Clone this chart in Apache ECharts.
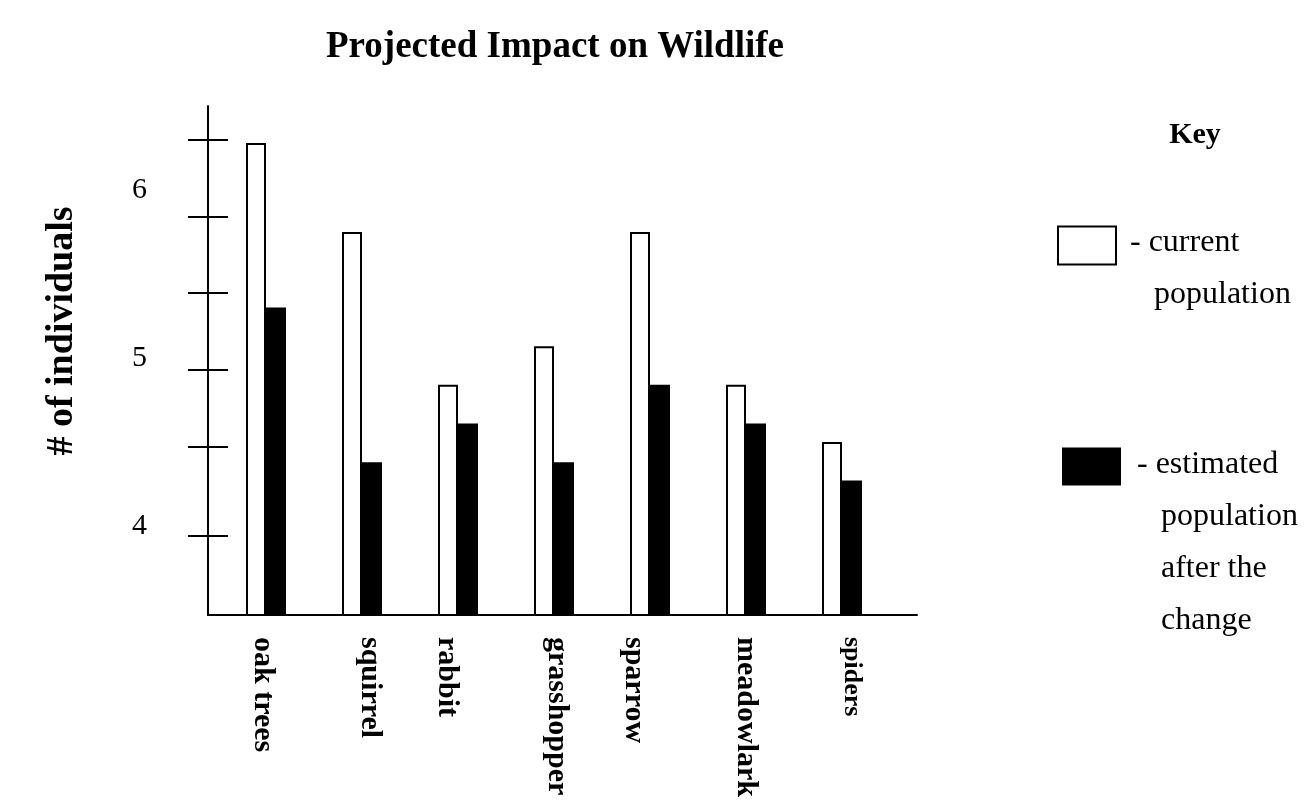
<!DOCTYPE html>
<html>
<head>
<meta charset="utf-8">
<title>Projected Impact on Wildlife</title>
<script src="https://cdn.jsdelivr.net/npm/echarts@6/dist/echarts.min.js"></script>
<style>
html, body { margin: 0; padding: 0; background: #fff; }
#chart { width: 1313px; height: 806px; }
</style>
</head>
<body>
<div id="chart"></div>
<script>
var categories = ['oak trees', 'squirrel', 'rabbit', 'grasshopper', 'sparrow', 'meadowlark', 'spiders'];
var currentPop = [6.28, 5.75, 4.84, 5.07, 5.75, 4.84, 4.50];
var estimatedPop = [5.30, 4.38, 4.61, 4.38, 4.84, 4.61, 4.27];
var yLabels = [4, 5, 6];
var yTicks = [3.94, 4.47, 4.93, 5.39, 5.84, 6.30];
var yMin = 3.47;
var yMax = 6.5;

// labels in the original were placed by hand, so nudge them (px, + = right)
var labelNudge = [-3, 8, -11, 3, -16, 0, 10];
var labelSize = [30, 30, 30, 30, 30, 30, 26];

var FONT = "'Liberation Serif', 'Times New Roman', serif";

var chartDom = document.getElementById('chart');
var myChart = echarts.init(chartDom);

// rotated labels: an empty line before/after the name shifts it sideways
var labelRich = {};
categories.forEach(function (name, i) {
    labelRich['t' + i] = { fontFamily: FONT, fontWeight: 'bold', fontSize: labelSize[i], color: '#000' };
    labelRich['g' + i] = { fontSize: 1, lineHeight: Math.max(1, 2 * Math.abs(labelNudge[i])) };
});

var legendText = { fontFamily: FONT, fontSize: 32, color: '#000', lineHeight: 52 };

var option = {
    backgroundColor: '#fff',
    animation: false,
    title: [
        {
            text: 'Projected Impact on Wildlife',
            left: 555,
            top: 29,
            textAlign: 'center',
            padding: 0,
            textStyle: { fontFamily: FONT, fontWeight: 'bold', fontSize: 37, color: '#000' }
        },
        {
            text: 'Key',
            left: 1195,
            top: 120,
            textAlign: 'center',
            padding: 0,
            textStyle: { fontFamily: FONT, fontWeight: 'bold', fontSize: 30, color: '#000' }
        }
    ],
    legend: [
        {
            data: ['current population'],
            left: 1057,
            top: 193,
            padding: 0,
            icon: 'rect',
            itemWidth: 58,
            itemHeight: 38,
            selectedMode: false,
            formatter: function () {
                return '{gap| }\n{txt|- current}\n{txt|   population}';
            },
            textStyle: {
                padding: [0, 0, 0, 9],
                rich: {
                    gap: { fontSize: 1, lineHeight: 47 },
                    txt: legendText
                }
            }
        },
        {
            data: ['estimated population'],
            left: 1062,
            top: 362,
            padding: 0,
            icon: 'rect',
            itemWidth: 59,
            itemHeight: 38,
            selectedMode: false,
            formatter: function () {
                return '{gap| }\n{txt|- estimated}\n{txt|   population}\n{txt|   after the}\n{txt|   change}';
            },
            textStyle: {
                padding: [0, 0, 0, 11],
                rich: {
                    gap: { fontSize: 1, lineHeight: 152 },
                    txt: legendText
                }
            }
        }
    ],
    grid: [
        { left: 208, top: 106, width: 709, height: 509 },
        { left: 218, top: 106, width: 672, height: 509 }
    ],
    xAxis: [
        {
            type: 'value',
            gridIndex: 0,
            min: 0,
            max: 1,
            axisLine: { show: true, onZero: false, lineStyle: { color: '#000', width: 2 } },
            axisTick: { show: false },
            axisLabel: { show: false },
            splitLine: { show: false }
        },
        {
            type: 'category',
            gridIndex: 1,
            data: categories,
            axisLine: { show: false },
            axisTick: { show: false },
            axisLabel: {
                interval: 0,
                rotate: -90,
                margin: 22,
                color: '#000',
                fontFamily: FONT,
                fontWeight: 'bold',
                fontSize: 30,
                formatter: function (value, i) {
                    var d = labelNudge[i];
                    var t = '{t' + i + '|' + value + '}';
                    var g = '{g' + i + '| }';
                    if (d > 0) return t + '\n' + g;
                    if (d < 0) return g + '\n' + t;
                    return t;
                },
                rich: labelRich
            }
        }
    ],
    yAxis: [
        {
            type: 'value',
            gridIndex: 0,
            min: yMin,
            max: yMax,
            name: '# of individuals',
            nameLocation: 'middle',
            nameRotate: 90,
            nameGap: 127,
            nameTextStyle: {
                fontFamily: FONT, fontWeight: 'bold', fontSize: 38, color: '#000',
                padding: [0, 0, 0, 59]
            },
            axisLine: { show: true, onZero: false, lineStyle: { color: '#000', width: 2 } },
            axisTick: { show: true, length: 20, lineStyle: { color: '#000', width: 2 }, customValues: yTicks },
            axisLabel: {
                customValues: yLabels,
                margin: 61,
                color: '#000',
                fontFamily: FONT,
                fontSize: 30
            },
            splitLine: { show: false }
        },
        {
            // inner half of the crossing ticks
            type: 'value',
            gridIndex: 0,
            position: 'left',
            min: yMin,
            max: yMax,
            axisLine: { show: false },
            axisTick: { show: true, inside: true, length: 20, lineStyle: { color: '#000', width: 2 }, customValues: yTicks },
            axisLabel: { show: false },
            splitLine: { show: false }
        },
        {
            type: 'value',
            gridIndex: 1,
            min: yMin,
            max: yMax,
            show: false
        }
    ],
    series: [
        {
            name: 'current population',
            type: 'bar',
            xAxisIndex: 1,
            yAxisIndex: 2,
            barWidth: 20,
            barGap: '0%',
            itemStyle: { color: '#fff', borderColor: '#000', borderWidth: 2 },
            data: currentPop
        },
        {
            name: 'estimated population',
            type: 'bar',
            xAxisIndex: 1,
            yAxisIndex: 2,
            barWidth: 20,
            barGap: '0%',
            itemStyle: { color: '#000' },
            data: estimatedPop
        }
    ]
};

option && myChart.setOption(option);
window.addEventListener('resize', function () {
    myChart.resize();
});
</script>
</body>
</html>
